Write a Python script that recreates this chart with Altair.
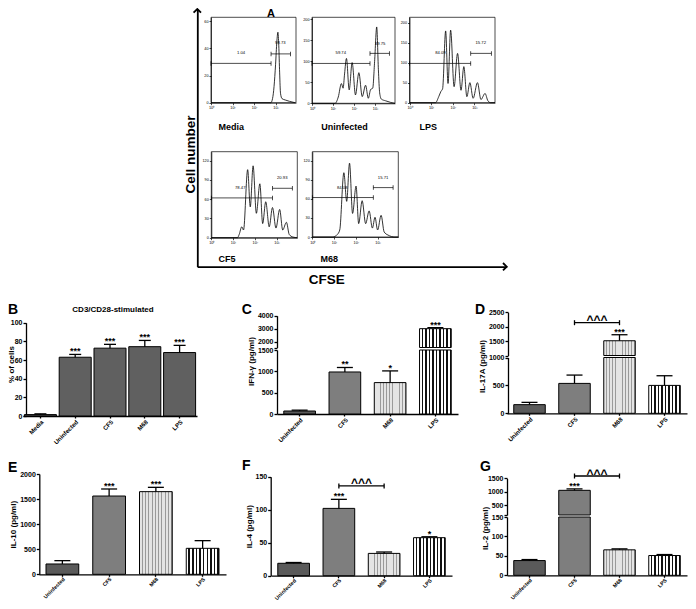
import altair as alt
import pandas as pd

FONT = "Liberation Sans"
W, H = 680, 593


def P(v):
    """page pixel -> plot pixel (page has an 8px margin)"""
    return round(v - 8, 2)


# ------------------------------------------------------------------
# Panel A : CFSE histograms (x = log10 CFSE, y = cell number)
# ------------------------------------------------------------------
decades = [0, 1, 2, 3]

media_lx = [0, 2.78, 2.86, 2.93, 3.0, 3.06, 3.11, 3.15, 3.19, 3.23, 3.3, 3.45, 3.65, 3.9]
media_n = [0, 0, 3, 12, 28, 45, 52, 42, 22, 7, 3, 2, 1, 0]
media_gate_from = [0, 2.79]
media_gate_to = [2.79, 3.69]
media_gate_y = [29, 36]
media_gate_lab = ["1.04", "98.73"]
media_gate_lab_x = [1.4, 3.22]
media_gate_lab_y = [36.4, 44]

unin_lx = [0, 1.1, 1.25, 1.40, 1.48, 1.55, 1.64, 1.77, 1.91, 2.07, 2.23, 2.39, 2.55, 2.68,
           2.79, 2.89, 2.98, 3.08, 3.16, 3.22, 3.3, 3.5, 3.75, 3.95]
unin_n = [0, 0, 15, 47, 36, 70, 107, 32, 97, 20, 73, 16, 43, 12,
          33, 36, 100, 182, 80, 25, 10, 6, 2, 0]
unin_gate_from = [0, 2.76]
unin_gate_to = [2.76, 3.68]
unin_gate_y = [95, 119]
unin_gate_lab = ["59.74", "39.75"]
unin_gate_lab_x = [1.37, 3.24]
unin_gate_lab_y = [119, 142]

lps_lx = [0, 1.2, 1.35, 1.45, 1.53, 1.67, 1.78, 1.90, 2.06, 2.22, 2.38, 2.51, 2.65, 2.79,
          2.94, 3.14, 3.30, 3.49, 3.62, 3.75, 3.95]
lps_n = [0, 0, 15, 28, 35, 179, 48, 181, 40, 123, 31, 90, 15, 50,
         11, 50, 8, 23, 5, 0, 0]
lps_gate_from = [0, 2.83]
lps_gate_to = [2.83, 3.78]
lps_gate_y = [98, 123]
lps_gate_lab = ["84.09", "15.72"]
lps_gate_lab_x = [1.43, 3.29]
lps_gate_lab_y = [123, 148]

cf5_lx = [0, 1.2, 1.28, 1.40, 1.48, 1.67, 1.79, 1.92, 2.07, 2.23, 2.36, 2.50, 2.66, 2.81,
          2.97, 3.14, 3.28, 3.45, 3.58, 3.75, 3.95]
cf5_n = [0, 0, 5, 17, 12, 106, 48, 112, 38, 84, 22, 56, 17, 47,
         15, 44, 12, 24, 5, 1, 0]
cf5_gate_from = [0, 2.81]
cf5_gate_to = [2.81, 3.72]
cf5_gate_y = [62, 77]
cf5_gate_lab = ["78.47", "20.93"]
cf5_gate_lab_x = [1.33, 3.26]
cf5_gate_lab_y = [77, 92.5]

m68_lx = [0, 0.95, 1.15, 1.26, 1.45, 1.58, 1.71, 1.85, 2.01, 2.13, 2.29, 2.45, 2.61, 2.76,
          2.88, 3.0, 3.16, 3.3, 3.48, 3.79, 3.95]
m68_n = [0, 0, 4, 11, 101, 56, 116, 37, 80, 21, 57, 21, 41, 14,
         31, 11, 34, 8, 3, 0, 0]
m68_gate_from = [0, 2.80]
m68_gate_to = [2.80, 3.71]
m68_gate_y = [62, 77.6]
m68_gate_lab = ["84.08", "15.71"]
m68_gate_lab_x = [1.37, 3.25]
m68_gate_lab_y = [76.5, 93]

# ------------------------------------------------------------------
# Panels B-G : bar charts (mean, upper error, significance)
# ------------------------------------------------------------------
b_cats = ["Media", "Uninfected", "CF5", "M68", "LPS"]
b_mean = [1.5, 63.0, 72.7, 74.3, 68.0]
b_err = [2.3, 66.0, 76.8, 81.0, 75.7]
b_sig = ["", "***", "***", "***", "***"]

cyto_cats = ["Uninfected", "CF5", "M68", "LPS"]

ifng_mean = [70, 985, 736, 3000]
ifng_err = [90, 1090, 1010, 3080]
ifng_sig = ["", "**", "*", "***"]

il17_mean = [155, 536, 1512, 500]
il17_err = [196, 685, 1721, 673]
il17_sig = ["", "", "***", ""]
il17_bracket = 2139

il10_mean = [206, 1561, 1648, 518]
il10_err = [272, 1701, 1734, 671]
il10_sig = ["", "***", "***", ""]

il4_mean = [18.8, 102, 33.8, 57.6]
il4_err = [20, 115.7, 35.9, 59]
il4_sig = ["", "***", "", "*"]
il4_bracket = 136

il2_mean = [37.9, 1058, 65.5, 50.9]
il2_err = [40.5, 1110, 68, 53.4]
il2_sig = ["", "***", "", ""]
il2_bracket = 1584


# ------------------------------------------------------------------
def stripes(bg, fg, n, frac):
    stops = []
    for i in range(n):
        a = round(i / n, 4)
        b = round((i + 1 - frac) / n, 4)
        c = round((i + 1) / n, 4)
        stops += [{"offset": a, "color": bg}, {"offset": b, "color": bg},
                  {"offset": b, "color": fg}, {"offset": c, "color": fg}]
    return {"gradient": "linear", "x1": 0, "y1": 0, "x2": 1, "y2": 0, "stops": stops}


DARK = "#5a5a5a"
HATCH = "#7e7e7e"
LIGHT = stripes("#e4e4e4", "#9a9a9a", 10, 0.3)
BW = stripes("#ffffff", "#111111", 9, 0.42)
cyto_fills = {"Uninfected": DARK, "CF5": HATCH, "M68": LIGHT, "LPS": BW}
b_fills = {c: "#606060" for c in b_cats}

ONE = pd.DataFrame({"k": [0]})


def histogram(title, lx, n, g_from, g_to, g_y, g_lab, g_lab_x, g_lab_y, box, ymax, yticks):
    L, R, T, B, tx, ty = box
    xs = alt.Scale(domain=[0, 3.95], range=[P(L), P(R)], nice=False, zero=False)
    ys = alt.Scale(domain=[0, ymax], range=[P(B), P(T)], nice=False, zero=False)
    xaxis = alt.Axis(orient="bottom", offset=round(B - 8 - H, 2), values=decades,
                     labelExpr="'10' + ['\u2070','\u00b9','\u00b2','\u00b3'][datum.value]",
                     labelFontSize=3.8, labelPadding=1, tickSize=2, tickWidth=0.7,
                     domainWidth=0.7, title=title, titleX=P(tx), titleY=round(ty - B, 2),
                     titleAlign="left", titleBaseline="middle", titleFontSize=9,
                     titleFontWeight="bold")
    yaxis = alt.Axis(orient="left", offset=round(8 - L, 2), values=yticks, format="d",
                     labelFontSize=3.8, labelPadding=1, tickSize=2, tickWidth=0.7,
                     domainWidth=0.7, title=None)
    curve = alt.Chart(pd.DataFrame({"lx": lx, "n": n})).mark_line(
        color="black", strokeWidth=0.8, interpolate="monotone").encode(
        x=alt.X("lx:Q", scale=xs, axis=xaxis), y=alt.Y("n:Q", scale=ys, axis=yaxis))
    frame = alt.Chart(ONE).mark_rect(fillOpacity=0, stroke="black", strokeWidth=0.7).encode(
        x=alt.XDatum(datum=0, scale=xs, axis=None), x2=alt.X2Datum(datum=3.95),
        y=alt.YDatum(datum=0, scale=ys, axis=None), y2=alt.Y2Datum(datum=ymax))
    gates = pd.DataFrame({"a": g_from, "b": g_to, "y": g_y})
    g_rule = alt.Chart(gates).mark_rule(color="black", strokeWidth=0.7).encode(
        x=alt.X("a:Q", scale=xs, axis=None), x2="b:Q", y=alt.Y("y:Q", scale=ys, axis=None))
    g_end1 = alt.Chart(gates).mark_tick(orient="vertical", size=4.5, thickness=0.7,
                                        color="black", opacity=1).encode(
        x=alt.X("a:Q", scale=xs, axis=None), y=alt.Y("y:Q", scale=ys, axis=None))
    g_end2 = alt.Chart(gates).mark_tick(orient="vertical", size=4.5, thickness=0.7,
                                        color="black", opacity=1).encode(
        x=alt.X("b:Q", scale=xs, axis=None), y=alt.Y("y:Q", scale=ys, axis=None))
    labs = alt.Chart(pd.DataFrame({"x": g_lab_x, "y": g_lab_y, "t": g_lab})).mark_text(
        font=FONT, fontSize=4.2, color="black").encode(
        x=alt.X("x:Q", scale=xs, axis=None), y=alt.Y("y:Q", scale=ys, axis=None), text="t:N")
    return [curve, frame, g_rule, g_end1, g_end2, labs]


def bar_panel(cats, mean, err, sig, fills, xr, pi, yaxis_x, segs, title, title_y, cap,
              bracket=None, title_x=None, xlab_size=6.1, xlab_pad=0.5):
    df = pd.DataFrame({"cat": cats, "mean": mean, "err": err, "sig": sig})
    units = []
    lower_top = segs[0][0][1]
    step = (xr[1] - xr[0]) / len(cats)
    for k, (dom, rng, ticks, hide) in enumerate(segs):
        lower = k == 0
        xs = alt.Scale(domain=cats, range=[P(xr[0]), P(xr[1])], paddingInner=pi,
                       paddingOuter=pi / 2)
        ys = alt.Scale(domain=dom, range=[P(rng[0]), P(rng[1])], nice=False, zero=False,
                       clamp=lower)
        yargs = dict(orient="left", offset=round(8 - yaxis_x, 2), values=ticks, format="d",
                     labelFontSize=7, labelFontWeight="bold", labelPadding=1, tickSize=3,
                     tickWidth=1.3, domainWidth=1.3)
        if hide is not None:
            yargs["labelExpr"] = "datum.value == %s ? '' : datum.label" % hide
        if lower:
            yargs.update(title=title, titleFontSize=8, titleFontWeight="bold", titlePadding=2)
            if title_y is not None:
                yargs["titleY"] = P(title_y)
            if title_x is not None:
                yargs.update(titleX=round(title_x - yaxis_x, 2), titleAngle=270,
                             titleBaseline="bottom", titleAlign="center")
        else:
            yargs["title"] = None
        yaxis = alt.Axis(**yargs)
        xaxis = None
        if lower:
            xaxis = alt.Axis(orient="bottom", offset=round(rng[0] - 8 - H, 2), labelAngle=-45,
                             labelAlign="right", labelBaseline="top",
                             labelFontSize=xlab_size, labelFontWeight="bold",
                             labelPadding=xlab_pad, tickSize=2, tickWidth=1.3,
                             domainWidth=1.3, title=None)
        bars = df if lower else df[df["mean"] > dom[0]]
        first = True
        for c in cats:
            sub = bars[bars["cat"] == c]
            if len(sub) == 0:
                continue
            enc = dict(x=alt.X("cat:N", scale=xs, axis=xaxis if first else None),
                       y=alt.Y("mean:Q", scale=ys, axis=yaxis if first else None))
            if not lower:
                enc["y2"] = alt.Y2Datum(datum=dom[0])
            units.append(alt.Chart(sub).mark_bar(fill=fills[c], stroke="black",
                                                 strokeWidth=1).encode(**enc))
            first = False
        if lower:
            e = df[df["err"] <= lower_top]
        else:
            e = df[df["err"] > lower_top]
        if len(e):
            units.append(alt.Chart(e).mark_rule(color="black", strokeWidth=1.3).encode(
                x=alt.X("cat:N", scale=xs, axis=None),
                y=alt.Y("mean:Q", scale=ys, axis=None), y2="err:Q"))
            units.append(alt.Chart(e).mark_tick(orient="horizontal", size=cap, thickness=1.3,
                                                color="black", opacity=1).encode(
                x=alt.X("cat:N", scale=xs, axis=None), y=alt.Y("err:Q", scale=ys, axis=None)))
            s = e[e["sig"] != ""]
            if len(s):
                units.append(alt.Chart(s).mark_text(font=FONT, fontSize=9, fontWeight="bold",
                                                    baseline="alphabetic", color="black").encode(
                    x=alt.X("cat:N", scale=xs, axis=None),
                    y=alt.Y("err:Q", scale=ys, axis=None), text="sig:N"))
        if bracket is not None and bracket[0] == k:
            yv = bracket[1]
            bd = pd.DataFrame({"c": ["CF5", "M68"], "y": [yv, yv]})
            units.append(alt.Chart(bd).mark_line(color="black", strokeWidth=1.3).encode(
                x=alt.X("c:N", scale=xs, axis=None), y=alt.Y("y:Q", scale=ys, axis=None)))
            units.append(alt.Chart(bd).mark_tick(orient="vertical", size=5, thickness=1.3,
                                                 color="black", opacity=1).encode(
                x=alt.X("c:N", scale=xs, axis=None), y=alt.Y("y:Q", scale=ys, axis=None)))
            td = pd.DataFrame({"c": ["CF5"], "y": [yv], "t": ["^^^"]})
            units.append(alt.Chart(td).mark_text(font=FONT, fontSize=12, fontWeight="bold",
                                                 baseline="alphabetic", dy=1.5,
                                                 dx=round(step / 2, 2),
                                                 color="black").encode(
                x=alt.X("c:N", scale=xs, axis=None),
                y=alt.Y("y:Q", scale=ys, axis=None), text="t:N"))
    return units


def label(text, x, y, size, align="left", baseline="middle", weight="bold"):
    return alt.Chart(pd.DataFrame({"t": [text]})).mark_text(
        font=FONT, fontSize=size, fontWeight=weight, align=align, baseline=baseline,
        color="black").encode(text="t:N", x=alt.value(P(x)), y=alt.value(P(y)))


# ---------- big CFSE / Cell number arrows ----------
axs = alt.Scale(domain=[0, 1], range=[P(197.3), P(506.7)], nice=False, zero=False)
ays = alt.Scale(domain=[0, 1], range=[P(266.7), P(9)], nice=False, zero=False)
chev = "M-1,1L0,0L1,1"
arrow_up = alt.Chart(pd.DataFrame({"ax": [0], "ay": [1]})).mark_point(
    shape=chev, filled=False, size=55, strokeWidth=1.8, color="black", opacity=1).encode(
    x=alt.X("ax:Q", scale=axs, axis=alt.Axis(
        orient="bottom", offset=round(266.7 - 8 - H, 2), labels=False, ticks=False,
        domainWidth=1.8, title="CFSE", titleFontSize=13.5, titleFontWeight="bold",
        titleX=P(326.2), titleY=5.5, titleBaseline="top", titleAlign="center")),
    y=alt.Y("ay:Q", scale=ays, axis=alt.Axis(
        orient="left", offset=round(8 - 197.3, 2), labels=False, ticks=False,
        domainWidth=1.8, title="Cell number", titleFontSize=13.5, titleFontWeight="bold",
        titleY=P(154), titleX=0, titleAngle=270, titleBaseline="bottom",
        titleAlign="center")))
arrow_right = alt.Chart(pd.DataFrame({"ax": [1], "ay": [0]})).mark_point(
    shape=chev, filled=False, size=55, strokeWidth=1.8, color="black", opacity=1,
    angle=90).encode(x=alt.X("ax:Q", scale=axs, axis=None),
                     y=alt.Y("ay:Q", scale=ays, axis=None))

units = [arrow_up, arrow_right]
units += histogram("Media", media_lx, media_n, media_gate_from, media_gate_to, media_gate_y,
                   media_gate_lab, media_gate_lab_x, media_gate_lab_y,
                   (211, 296, 17.3, 102.7, 218, 126), 63, [0, 20, 40, 60])
units += histogram("Uninfected", unin_lx, unin_n, unin_gate_from, unin_gate_to, unin_gate_y,
                   unin_gate_lab, unin_gate_lab_x, unin_gate_lab_y,
                   (312, 395, 17.3, 103.3, 320.7, 126), 205, [0, 50, 100, 150, 200])
units += histogram("LPS", lps_lx, lps_n, lps_gate_from, lps_gate_to, lps_gate_y,
                   lps_gate_lab, lps_gate_lab_x, lps_gate_lab_y,
                   (409.5, 495, 17.3, 102.7, 419, 126), 213, [0, 50, 100, 150, 200])
units += histogram("CF5", cf5_lx, cf5_n, cf5_gate_from, cf5_gate_to, cf5_gate_y,
                   cf5_gate_lab, cf5_gate_lab_x, cf5_gate_lab_y,
                   (211.3, 297.3, 151.7, 237.7, 218, 258.3), 134, [0, 30, 60, 90, 120])
units += histogram("M68", m68_lx, m68_n, m68_gate_from, m68_gate_to, m68_gate_y,
                   m68_gate_lab, m68_gate_lab_x, m68_gate_lab_y,
                   (312.3, 398.3, 151.7, 237, 320, 258.3), 134, [0, 30, 60, 90, 120])

units += bar_panel(b_cats, b_mean, b_err, b_sig, b_fills, (23, 197), 0.08, 26,
                   [([0, 100], (416, 322.7), [0, 20, 40, 60, 80, 100], None)],
                   "% of cells", 364, 12, title_x=15.5)
units += bar_panel(cyto_cats, ifng_mean, ifng_err, ifng_sig, cyto_fills, (277, 458), 0.3, 277,
                   [([0, 1500], (414, 350), [0, 500, 1000, 1500], None),
                    ([1550, 4000], (347.5, 315.7), [1550, 2000, 3000, 4000], 1550)],
                   "IFN-\u03b3 (pg/ml)", 361, 16)
units += bar_panel(cyto_cats, il17_mean, il17_err, il17_sig, cyto_fills, (507, 687), 0.3, 508,
                   [([0, 1000], (413.3, 357.5), [0, 500, 1000], None),
                    ([1000, 2500], (355.5, 312.3), [1000, 1500, 2000, 2500], 1000)],
                   "IL-17A (pg/ml)", 366, 16, bracket=(1, il17_bracket))
units += bar_panel(cyto_cats, il10_mean, il10_err, il10_sig, cyto_fills, (39, 226), 0.3, 39.3,
                   [([0, 2000], (574.3, 474), [0, 500, 1000, 1500, 2000], None)],
                   "IL-10 (pg/ml)", None, 16, xlab_size=5.3, xlab_pad=0)
units += bar_panel(cyto_cats, il4_mean, il4_err, il4_sig, cyto_fills, (271, 452), 0.3, 270.7,
                   [([0, 150], (575.7, 476.7), [0, 50, 100, 150], None)],
                   "IL-4 (pg/ml)", None, 16, bracket=(0, il4_bracket), xlab_size=5.3,
                   xlab_pad=0)
units += bar_panel(cyto_cats, il2_mean, il2_err, il2_sig, cyto_fills, (507, 687), 0.3, 507,
                   [([0, 150], (575.3, 517), [0, 50, 100, 150], None),
                    ([150, 1500], (515, 478.3), [150, 500, 1000, 1500], 150)],
                   "IL-2 (pg/ml)", 528, 16, bracket=(1, il2_bracket), xlab_size=5.3,
                   xlab_pad=0)

units += [
    label("A", 271, 17, 11, align="center", baseline="alphabetic"),
    label("B", 8, 310, 14),
    label("C", 241.7, 310, 14),
    label("D", 475, 310, 14),
    label("E", 8, 468, 14),
    label("F", 242, 466, 14),
    label("G", 480, 467, 14),
    label("CD3/CD28-stimulated", 113, 310, 8, align="center"),
]

chart = alt.layer(*units).resolve_scale(
    x="independent", y="independent").properties(
    width=W, height=H, autosize=alt.AutoSizeParams(type="none"), padding=0,
    background="white").configure_view(stroke=None).configure_axis(
    labelFont=FONT, titleFont=FONT, labelColor="black", titleColor="black",
    domainColor="black", tickColor="black", grid=False, labelFlush=False)

chart.save("out.html", embed_options={"renderer": "svg", "actions": False})
